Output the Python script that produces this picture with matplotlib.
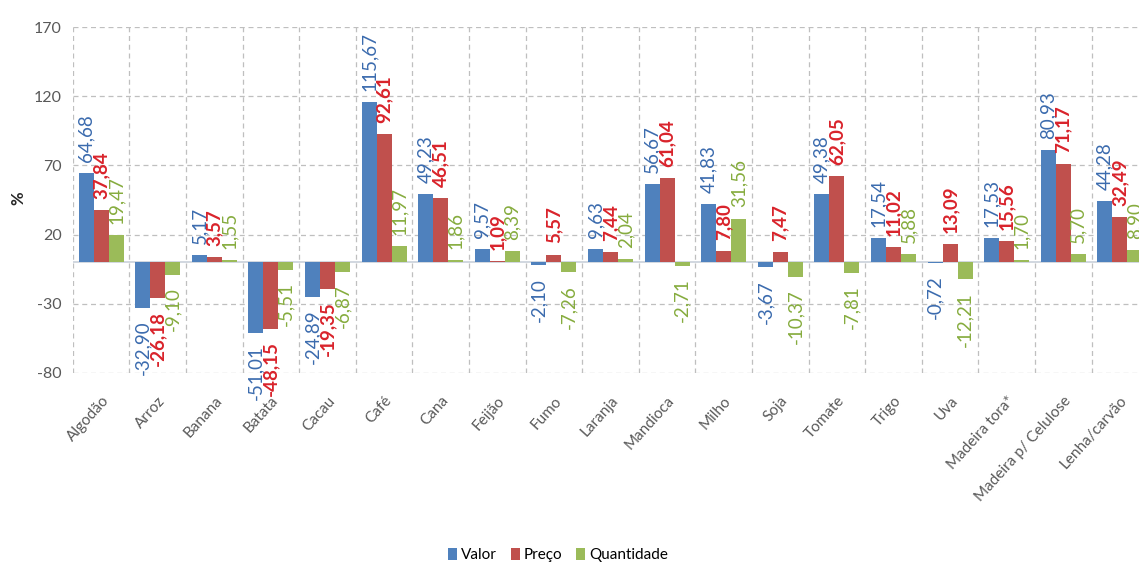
import numpy as np
import matplotlib.pyplot as plt

plt.rcParams['font.family'] = ['Lato', 'DejaVu Sans']

categorias = ['Algodão', 'Arroz', 'Banana', 'Batata', 'Cacau', 'Café', 'Cana', 'Feijão',
              'Fumo', 'Laranja', 'Mandioca', 'Milho', 'Soja', 'Tomate', 'Trigo', 'Uva',
              'Madeira tora*', 'Madeira p/ Celulose', 'Lenha/carvão']
valor = [64.68, -32.90, 5.17, -51.01, -24.89, 115.67, 49.23, 9.57, -2.10, 9.63,
         56.67, 41.83, -3.67, 49.38, 17.54, -0.72, 17.53, 80.93, 44.28]
preco = [37.84, -26.18, 3.57, -48.15, -19.35, 92.61, 46.51, 1.09, 5.57, 7.44,
         61.04, 7.80, 7.47, 62.05, 11.02, 13.09, 15.56, 71.17, 32.49]
quantidade = [19.47, -9.10, 1.55, -5.51, -6.87, 11.97, 1.86, 8.39, -7.26, 2.04,
              -2.71, 31.56, -10.37, -7.81, 5.88, -12.21, 1.70, 5.70, 8.90]
yticks = [-80, -30, 20, 70, 120, 170]

series = [
    ('Valor', valor, '#4F81BD', '#3B6BAE', 'normal'),
    ('Preço', preco, '#C0504D', '#D9232B', 'bold'),
    ('Quantidade', quantidade, '#9BBB59', '#86AC3E', 'normal'),
]

fig = plt.figure(figsize=(11.39, 5.65), dpi=100)
ax = fig.add_axes([0.064, 0.340, 0.944, 0.612])

x = np.arange(len(categorias))
w = 0.265
for k, (nome, vals, cor, cor_txt, peso) in enumerate(series):
    pos = x + (k - 1) * w
    ax.bar(pos, vals, w, color=cor, label=nome, zorder=3)
    for px, v in zip(pos, vals):
        txt = f'{v:.2f}'.replace('.', ',')
        if v >= 0:
            ax.annotate(txt, (px, v), xytext=(0, 8), textcoords='offset points',
                        rotation=90, ha='center', va='bottom', color=cor_txt,
                        fontsize=13.5, fontweight=peso, zorder=4, annotation_clip=False)
        else:
            ax.annotate(txt, (px, v), xytext=(0, -9), textcoords='offset points',
                        rotation=90, ha='center', va='top', color=cor_txt,
                        fontsize=13.5, fontweight=peso, zorder=4, annotation_clip=False)

ax.set_xlim(-0.5, len(categorias) - 0.5)
ax.set_ylim(-80, 170)
ax.set_yticks(yticks)
ax.set_yticklabels([str(t) for t in yticks], color='#595959', fontsize=11.5)
ax.set_xticks(x)
ax.set_xticklabels(categorias, rotation=48, ha='right', va='top', rotation_mode='anchor',
                   color='#595959', fontsize=11)
ax.set_xticks(np.arange(len(categorias) + 1) - 0.5, minor=True)
ax.tick_params(axis='both', which='both', length=0)
ax.tick_params(axis='x', pad=15)
ax.tick_params(axis='y', pad=8)
ax.grid(axis='y', which='major', color='#BFBFBF', linestyle=(0, (4, 3)), lw=0.9, zorder=0)
ax.grid(axis='x', which='minor', color='#BFBFBF', linestyle=(0, (4, 3)), lw=0.9, zorder=0)
ax.axhline(0, color='#C9D1DA', lw=1.2, zorder=2)
for s in ax.spines.values():
    s.set_visible(False)

fig.text(0.016, 0.65, '%', rotation=90, ha='center', va='center',
         fontsize=12, fontweight='bold', color='#262626')

fig.legend(loc='center', bbox_to_anchor=(0.49, 0.018), ncol=3, frameon=False,
           fontsize=11, handlelength=0.6, handleheight=0.9, handletextpad=0.25,
           columnspacing=0.9)

fig.savefig('out.png', dpi=100)
